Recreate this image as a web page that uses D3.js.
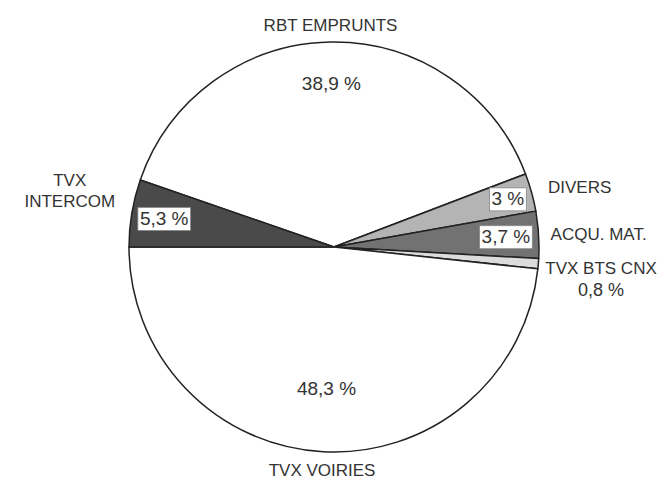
<!DOCTYPE html>
<html>
<head>
<meta charset="utf-8">
<script src="https://cdn.jsdelivr.net/npm/d3@7"></script>
<style>
  body { margin: 0; background: #fff; }
  text { font-family: "Liberation Sans", Arial, sans-serif; fill: #333; }
</style>
</head>
<body>
<script>
'use strict';

// slices, clockwise from the top
const categories = ["RBT EMPRUNTS", "DIVERS", "ACQU. MAT.", "TVX BTS CNX", "TVX VOIRIES", "TVX INTERCOM"];
const nameLines = [["RBT EMPRUNTS"], ["DIVERS"], ["ACQU. MAT."], ["TVX BTS CNX"], ["TVX VOIRIES"], ["TVX", "INTERCOM"]];
const shares = [38.9, 3, 3.7, 0.8, 48.3, 5.3];
const shareLabels = ["38,9 %", "3 %", "3,7 %", "0,8 %", "48,3 %", "5,3 %"];
const fills = ["#ffffff", "#b4b4b4", "#727272", "#dcdcdc", "#ffffff", "#4a4a4a"];

// label placement: radius of the name, anchor, tweak, and where the percentage goes
const layout = [
  { nameR: 222, anchor: "middle", dy: 0, pct: 0.80 },
  { nameR: 222, anchor: "start", dy: 0, pct: 0.88, box: true },
  { nameR: 217, anchor: "start", dy: 0, pct: 0.84, box: true },
  { nameR: 212, anchor: "start", dy: 4, pct: "below" },
  { nameR: 224, anchor: "middle", dy: 0, pct: 0.69 },
  { nameR: 222, anchor: "end", dy: -19, pct: 0.84, box: true }
];

const width = 670, height = 480;
const cx = 334, cy = 247, r = 205;

const svg = d3.select("body").append("svg")
  .attr("width", width)
  .attr("height", height);

const g = svg.append("g").attr("transform", `translate(${cx},${cy})`);

// the INTERCOM / VOIRIES border lies on the horizontal to the left
const total = d3.sum(shares);
const beforeLast = d3.sum(shares.slice(0, shares.length - 1));
const start = 1.5 * Math.PI - 2 * Math.PI * beforeLast / total;

const pie = d3.pie().sort(null).value(d => d)
  .startAngle(start).endAngle(start + 2 * Math.PI);
const arcs = pie(shares);

const arc = d3.arc().innerRadius(0).outerRadius(r);

g.selectAll("path.slice")
  .data(arcs)
  .enter()
  .append("path")
    .attr("class", "slice")
    .attr("d", arc)
    .attr("fill", (d, i) => fills[i])
    .attr("stroke", "#222")
    .attr("stroke-width", 1.5)
    .attr("stroke-linejoin", "round");

function polar(angle, radius) {
  return [radius * Math.sin(angle), -radius * Math.cos(angle)];
}

// percentages inside the pie
arcs.forEach((d, i) => {
  const L = layout[i];
  if (L.pct === "below") return;
  const mid = (d.startAngle + d.endAngle) / 2;
  const [x, y] = polar(mid, r * L.pct);
  const t = g.append("text")
    .attr("x", x)
    .attr("y", y)
    .attr("text-anchor", "middle")
    .attr("dominant-baseline", "central")
    .style("font-size", "19px")
    .text(shareLabels[i]);
  if (L.box) {
    const b = t.node().getBBox();
    g.insert("rect", () => t.node())
      .attr("x", b.x - 2)
      .attr("y", y - 11)
      .attr("width", b.width + 4)
      .attr("height", 23)
      .attr("fill", "#fff")
      .attr("stroke", "#888")
      .attr("stroke-width", 0.8);
  }
});

// category names around the pie
arcs.forEach((d, i) => {
  const L = layout[i];
  const mid = (d.startAngle + d.endAngle) / 2;
  const [px, py] = polar(mid, L.nameR);
  const lines = nameLines[i];
  const lh = 21;
  const t = g.append("text")
    .attr("text-anchor", "middle")
    .style("font-size", "17px");
  lines.forEach((s, k) => {
    t.append("tspan")
      .attr("x", 0)
      .attr("y", (k - (lines.length - 1) / 2) * lh)
      .attr("dominant-baseline", "central")
      .text(s);
  });
  const w = t.node().getBBox().width;
  let x = px;
  if (L.anchor === "start") x = px + w / 2;
  if (L.anchor === "end") x = px - w / 2;
  const y = py + L.dy;
  t.attr("transform", `translate(${x},${y})`);

  if (L.pct === "below") {
    g.append("text")
      .attr("x", x)
      .attr("y", y + 22)
      .attr("text-anchor", "middle")
      .attr("dominant-baseline", "central")
      .style("font-size", "18px")
      .text(shareLabels[i]);
  }
});
</script>
</body>
</html>
